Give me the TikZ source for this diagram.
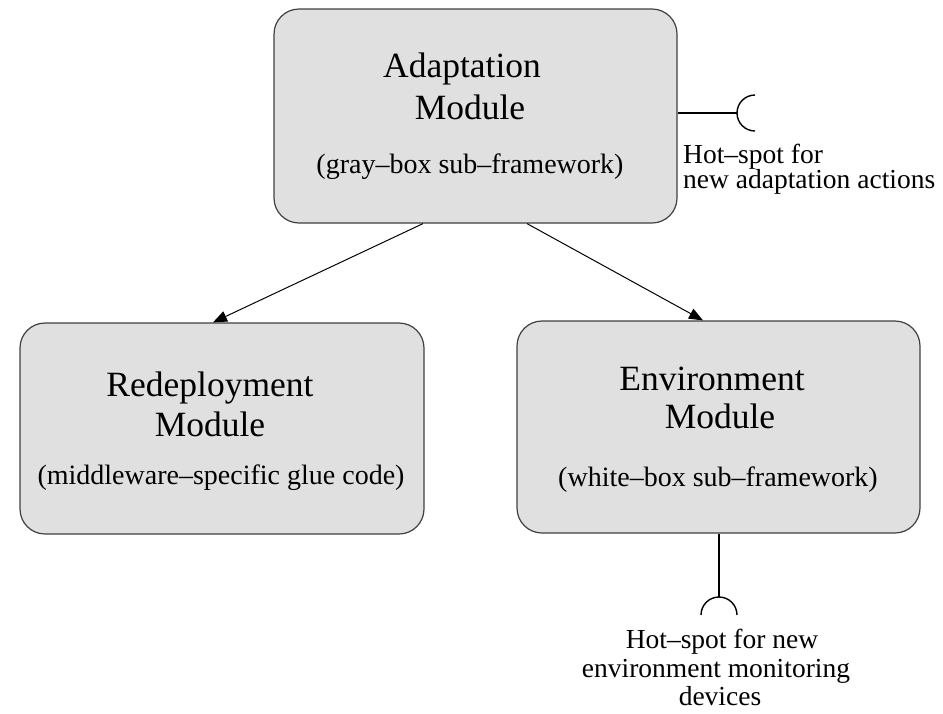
\documentclass[tikz,border=0pt]{standalone}
\usepackage{fontspec}
\setmainfont{Liberation Serif}
\usetikzlibrary{arrows.meta,calc}
\definecolor{boxfill}{HTML}{E0E0E0}
\definecolor{boxline}{HTML}{404040}
\begin{document}
\begin{tikzpicture}[x=1pt,y=-1pt,
  modbox/.style={draw=boxline,fill=boxfill,line width=1.2pt,rounded corners=25pt,inner sep=0pt},
  ttl/.style={anchor=base,inner sep=0pt,font=\fontsize{35.5}{40}\selectfont},
  sub/.style={anchor=base,inner sep=0pt,font=\fontsize{28}{32}\selectfont},
  hs/.style={inner sep=0pt,font=\fontsize{27.5}{30}\selectfont},
  conn/.style={line width=1pt,-{Triangle[length=14pt,width=11pt]}},
  plug/.style={line width=1.4pt}]
\useasboundingbox (0,0) rectangle (943,713);
% boxes
\node[modbox,minimum width=403pt,minimum height=214pt] (ada) at (475.5,116) {};
\node[modbox,minimum width=404pt,minimum height=211pt] (red) at (222,428.5) {};
\node[modbox,minimum width=403pt,minimum height=212pt] (env) at (718.5,427) {};
% texts
\node[ttl] (adaT) at (462,77) {Adaptation};
\node[ttl] (adaM) at (470,119) {Module};
\node[sub] (adaS) at (470,173) {(gray–box sub–framework)};
\node[ttl] (redT) at (210,396) {Redeployment};
\node[ttl] (redM) at (210,436) {Module};
\node[sub] (redS) at (221,484) {(middleware–specific glue code)};
\node[ttl] (envT) at (712,390) {Environment};
\node[ttl] (envM) at (720,428) {Module};
\node[sub] (envS) at (718,486) {(white–box sub–framework)};
% connectors
\draw[conn] ([xshift=-52.5pt]ada.south) -- ([xshift=-9pt]red.north);
\draw[conn] ([xshift=51.5pt]ada.south) -- ([xshift=-15.5pt]env.north);
% hot-spot adaptation
\coordinate (hs1) at (737,113);
\draw[plug] (ada.east |- hs1) -- (hs1);
\draw[plug] ([shift={(18pt,18pt)}]hs1) arc[start angle=90,end angle=270,radius=18pt];
\node[hs,anchor=base west] (hs1a) at (683,163) {Hot–spot for};
\node[hs,anchor=base west] (hs1b) at (683,188) {new adaptation actions};
% hot-spot environment
\coordinate (hs2) at (719,597);
\draw[plug] (env.south -| hs2) -- (hs2);
\draw[plug] ([shift={(-18pt,-18pt)}]hs2) arc[start angle=180,end angle=0,radius=18pt];
\node[hs,anchor=base] (hs2a) at (722,648) {Hot–spot for new};
\node[hs,anchor=base] (hs2b) at (716,677) {environment monitoring};
\node[hs,anchor=base] (hs2c) at (720,705) {devices};
\end{tikzpicture}
\end{document}
